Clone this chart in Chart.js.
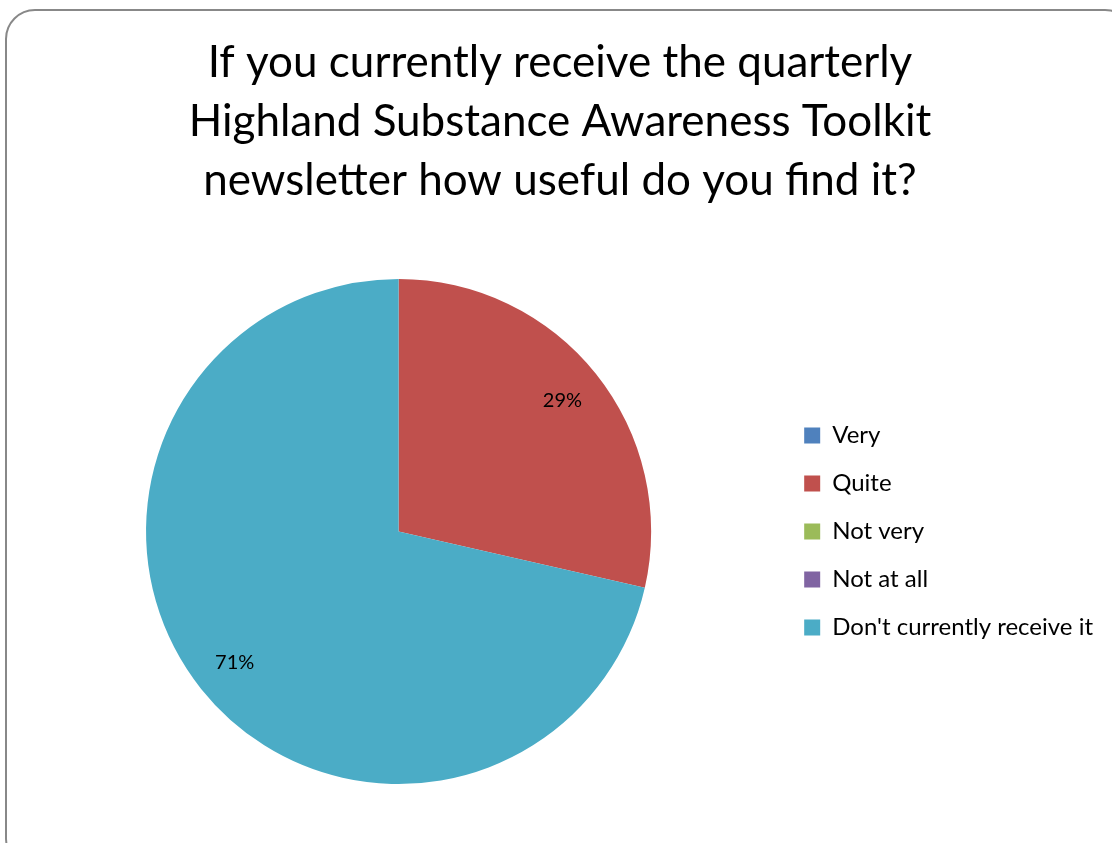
<!DOCTYPE html>
<html>
<head>
<meta charset="utf-8">
<script src="https://cdn.jsdelivr.net/npm/chart.js@4"></script>
<style>
    body { margin: 0; background: #fff; overflow: hidden; }
    #frame {
        position: absolute; left: 5px; top: 9px; width: 1130px; height: 860px;
        border: 2px solid #888; border-radius: 30px; box-sizing: border-box;
    }
    #wrap { position: absolute; left: 0; top: 0; width: 1130px; height: 843px; }
</style>
</head>
<body>
<div id="frame"></div>
<div id="wrap"><canvas id="pie-chart"></canvas></div>
<script>
const categories = ['Very', 'Quite', 'Not very', 'Not at all', "Don't currently receive it"];
const responses = [0, 2, 0, 0, 5];
const sliceColors = ['#4F81BD', '#C0504D', '#9BBB59', '#8064A2', '#4BACC6'];
const titleLines = [
    'If you currently receive the quarterly',
    'Highland Substance Awareness Toolkit',
    'newsletter how useful do you find it?'
];
const fontFamily = 'Lato, "Open Sans", sans-serif';

// percentage labels placed along each slice's mid angle
const pieLabels = {
    id: 'pieLabels',
    afterDatasetsDraw(chart) {
        const ctx = chart.ctx;
        const data = chart.data.datasets[0].data;
        const total = data.reduce((a, b) => a + b, 0);
        chart.getDatasetMeta(0).data.forEach((arc, i) => {
            if (!data[i]) return;
            const mid = (arc.startAngle + arc.endAngle) / 2;
            const r = arc.outerRadius * 0.83;
            ctx.save();
            ctx.fillStyle = '#000';
            ctx.font = '20px ' + fontFamily;
            ctx.textAlign = 'center';
            ctx.textBaseline = 'middle';
            ctx.fillText(Math.round(data[i] / total * 100) + '%', arc.x + Math.cos(mid) * r, arc.y + Math.sin(mid) * r);
            ctx.restore();
        });
    }
};

new Chart(document.getElementById('pie-chart'), {
    type: 'pie',
    data: {
        labels: categories,
        datasets: [{
            data: responses,
            backgroundColor: sliceColors,
            borderWidth: 0
        }]
    },
    options: {
        responsive: true,
        maintainAspectRatio: false,
        animation: false,
        layout: { padding: { left: 17, right: 27, bottom: 59 } },
        plugins: {
            title: {
                display: true,
                text: titleLines,
                color: '#000',
                font: { family: fontFamily, size: 44, weight: 'normal', lineHeight: 1.34 },
                padding: { top: 33, bottom: 69 }
            },
            legend: {
                position: 'right',
                fullSize: false,
                labels: {
                    color: '#000',
                    font: { family: fontFamily, size: 24 },
                    boxWidth: 16,
                    boxHeight: 16,
                    padding: 24
                }
            },
            tooltip: { enabled: false }
        }
    },
    plugins: [pieLabels]
});
</script>
</body>
</html>
